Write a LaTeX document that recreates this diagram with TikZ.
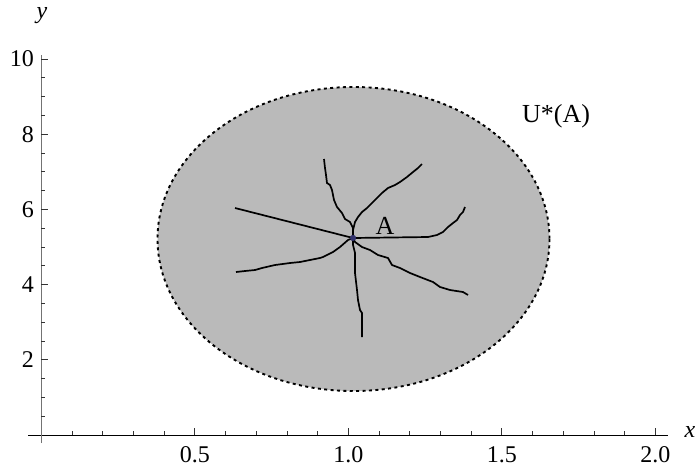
\documentclass[tikz,border=0pt]{standalone}
\usepackage{fontspec}
\setmainfont{Liberation Serif}
\definecolor{regiongray}{RGB}{186,186,186}
\definecolor{dotblue}{RGB}{50,50,110}
\begin{document}
\begin{tikzpicture}[x=1pt,y=-1pt,
  lbl/.style={font=\fontsize{24}{28}\selectfont, inner sep=0pt},
  biglbl/.style={font=\fontsize{26}{30}\selectfont, inner sep=0pt},
  axlbl/.style={font=\fontsize{24}{28}\selectfont\itshape, inner sep=0pt},
  walk/.style={line width=1.7pt, line join=miter},
  border/.style={line width=1.9pt, dash pattern=on 3pt off 3.4pt},
  xaxisline/.style={line width=0.9pt, black},
  yaxisline/.style={line width=1.1pt, black!55},
  tickline/.style={line width=0.8pt, black!80}]
\useasboundingbox (0,0) rectangle (698,467);

% region U*(A)
\fill[regiongray] (353.5,239) ellipse [x radius=196, y radius=152];
\draw[border] (353.5,239) ellipse [x radius=196, y radius=152];

% axes
\coordinate (xs) at (28,435);
\coordinate (xe) at (668,435);
\coordinate (ys) at (41.3,443);
\coordinate (ye) at (41.3,55);
\draw[xaxisline] (xs) -- (xe);
\draw[yaxisline] (ys) -- (ye);
\foreach \k in {1,...,20}{
  \pgfmathsetmacro\px{41.3+30.7*\k}
  \pgfmathsetmacro\len{mod(\k,5)==0 ? 7 : 4}
  \draw[tickline] (\px,435) -- (\px,435-\len);
  \pgfmathsetmacro\py{435-18.8*\k}
  \pgfmathsetmacro\leny{mod(\k,4)==0 ? 7 : 4}
  \draw[tickline] (41.3,\py) -- (41.3+\leny,\py);
}
\node[lbl] (x05) at (194.8,455) {0.5};
\node[lbl] (x10) at (348.3,455) {1.0};
\node[lbl] (x15) at (501.8,455) {1.5};
\node[lbl] (x20) at (655.3,455) {2.0};
\node[lbl, anchor=east] (y2) at (34,359.8) {2};
\node[lbl, anchor=east] (y4) at (34,284.6) {4};
\node[lbl, anchor=east] (y6) at (34,209.4) {6};
\node[lbl, anchor=east] (y8) at (34,134.2) {8};
\node[lbl, anchor=east] (y10) at (34,59) {10};
\node[axlbl] (xl) at (690,432) {x};
\node[axlbl] (yl) at (42,16) {y};

\node[biglbl] (ulbl) at (556,116) {U*(A)};

% point A and paths
\node[circle, fill=dotblue, inner sep=0pt, minimum size=6pt] (A) at (353,238) {};
\node[biglbl] (Alab) at (385,226) {A};

\coordinate (e1) at (324,159);
\coordinate (e2) at (422,164);
\coordinate (e3) at (235,208);
\coordinate (e4) at (236,272);
\coordinate (e5) at (362,337);
\coordinate (e6) at (468,295);
\coordinate (e7) at (465,207);

\draw[walk] (A.center) -- (353,228) -- (350,222) -- (345,219) -- (342,213) -- (337,207) -- (334,200) -- (332,190) -- (330,185) -- (327,183) -- (326,175) -- (325,168) -- (e1);
\draw[walk] (A.center) -- (353,230) -- (355,222) -- (358,217) -- (362,212) -- (367,208) -- (372,203) -- (377,198) -- (382,193) -- (388,188) -- (395,185) -- (400,182) -- (407,177) -- (413,172) -- (418,168) -- (e2);
\draw[walk] (A.center) -- (e3);
\draw[walk] (A.center) -- (348,240) -- (340,247) -- (333,252) -- (323,257) -- (320,258) -- (310,260) -- (300,262) -- (290,263) -- (275,265) -- (262,268) -- (255,270) -- (245,271) -- (e4);
\draw[walk] (A.center) -- (353,245) -- (355,253) -- (355,273) -- (357,290) -- (358,300) -- (360,310) -- (362,313) -- (e5);
\draw[walk] (A.center) -- (355,242) -- (362,247) -- (370,250) -- (378,255) -- (388,258) -- (392,265) -- (400,268) -- (410,273) -- (420,277) -- (433,282) -- (440,287) -- (450,290) -- (463,292) -- (e6);
\draw[walk] (A.center) -- (428,237) -- (437,235) -- (443,232) -- (448,227) -- (453,223) -- (457,220) -- (460,215) -- (463,212) -- (e7);
\node[circle, fill=dotblue, inner sep=0pt, minimum size=6pt] at (A) {};
\end{tikzpicture}
\end{document}
